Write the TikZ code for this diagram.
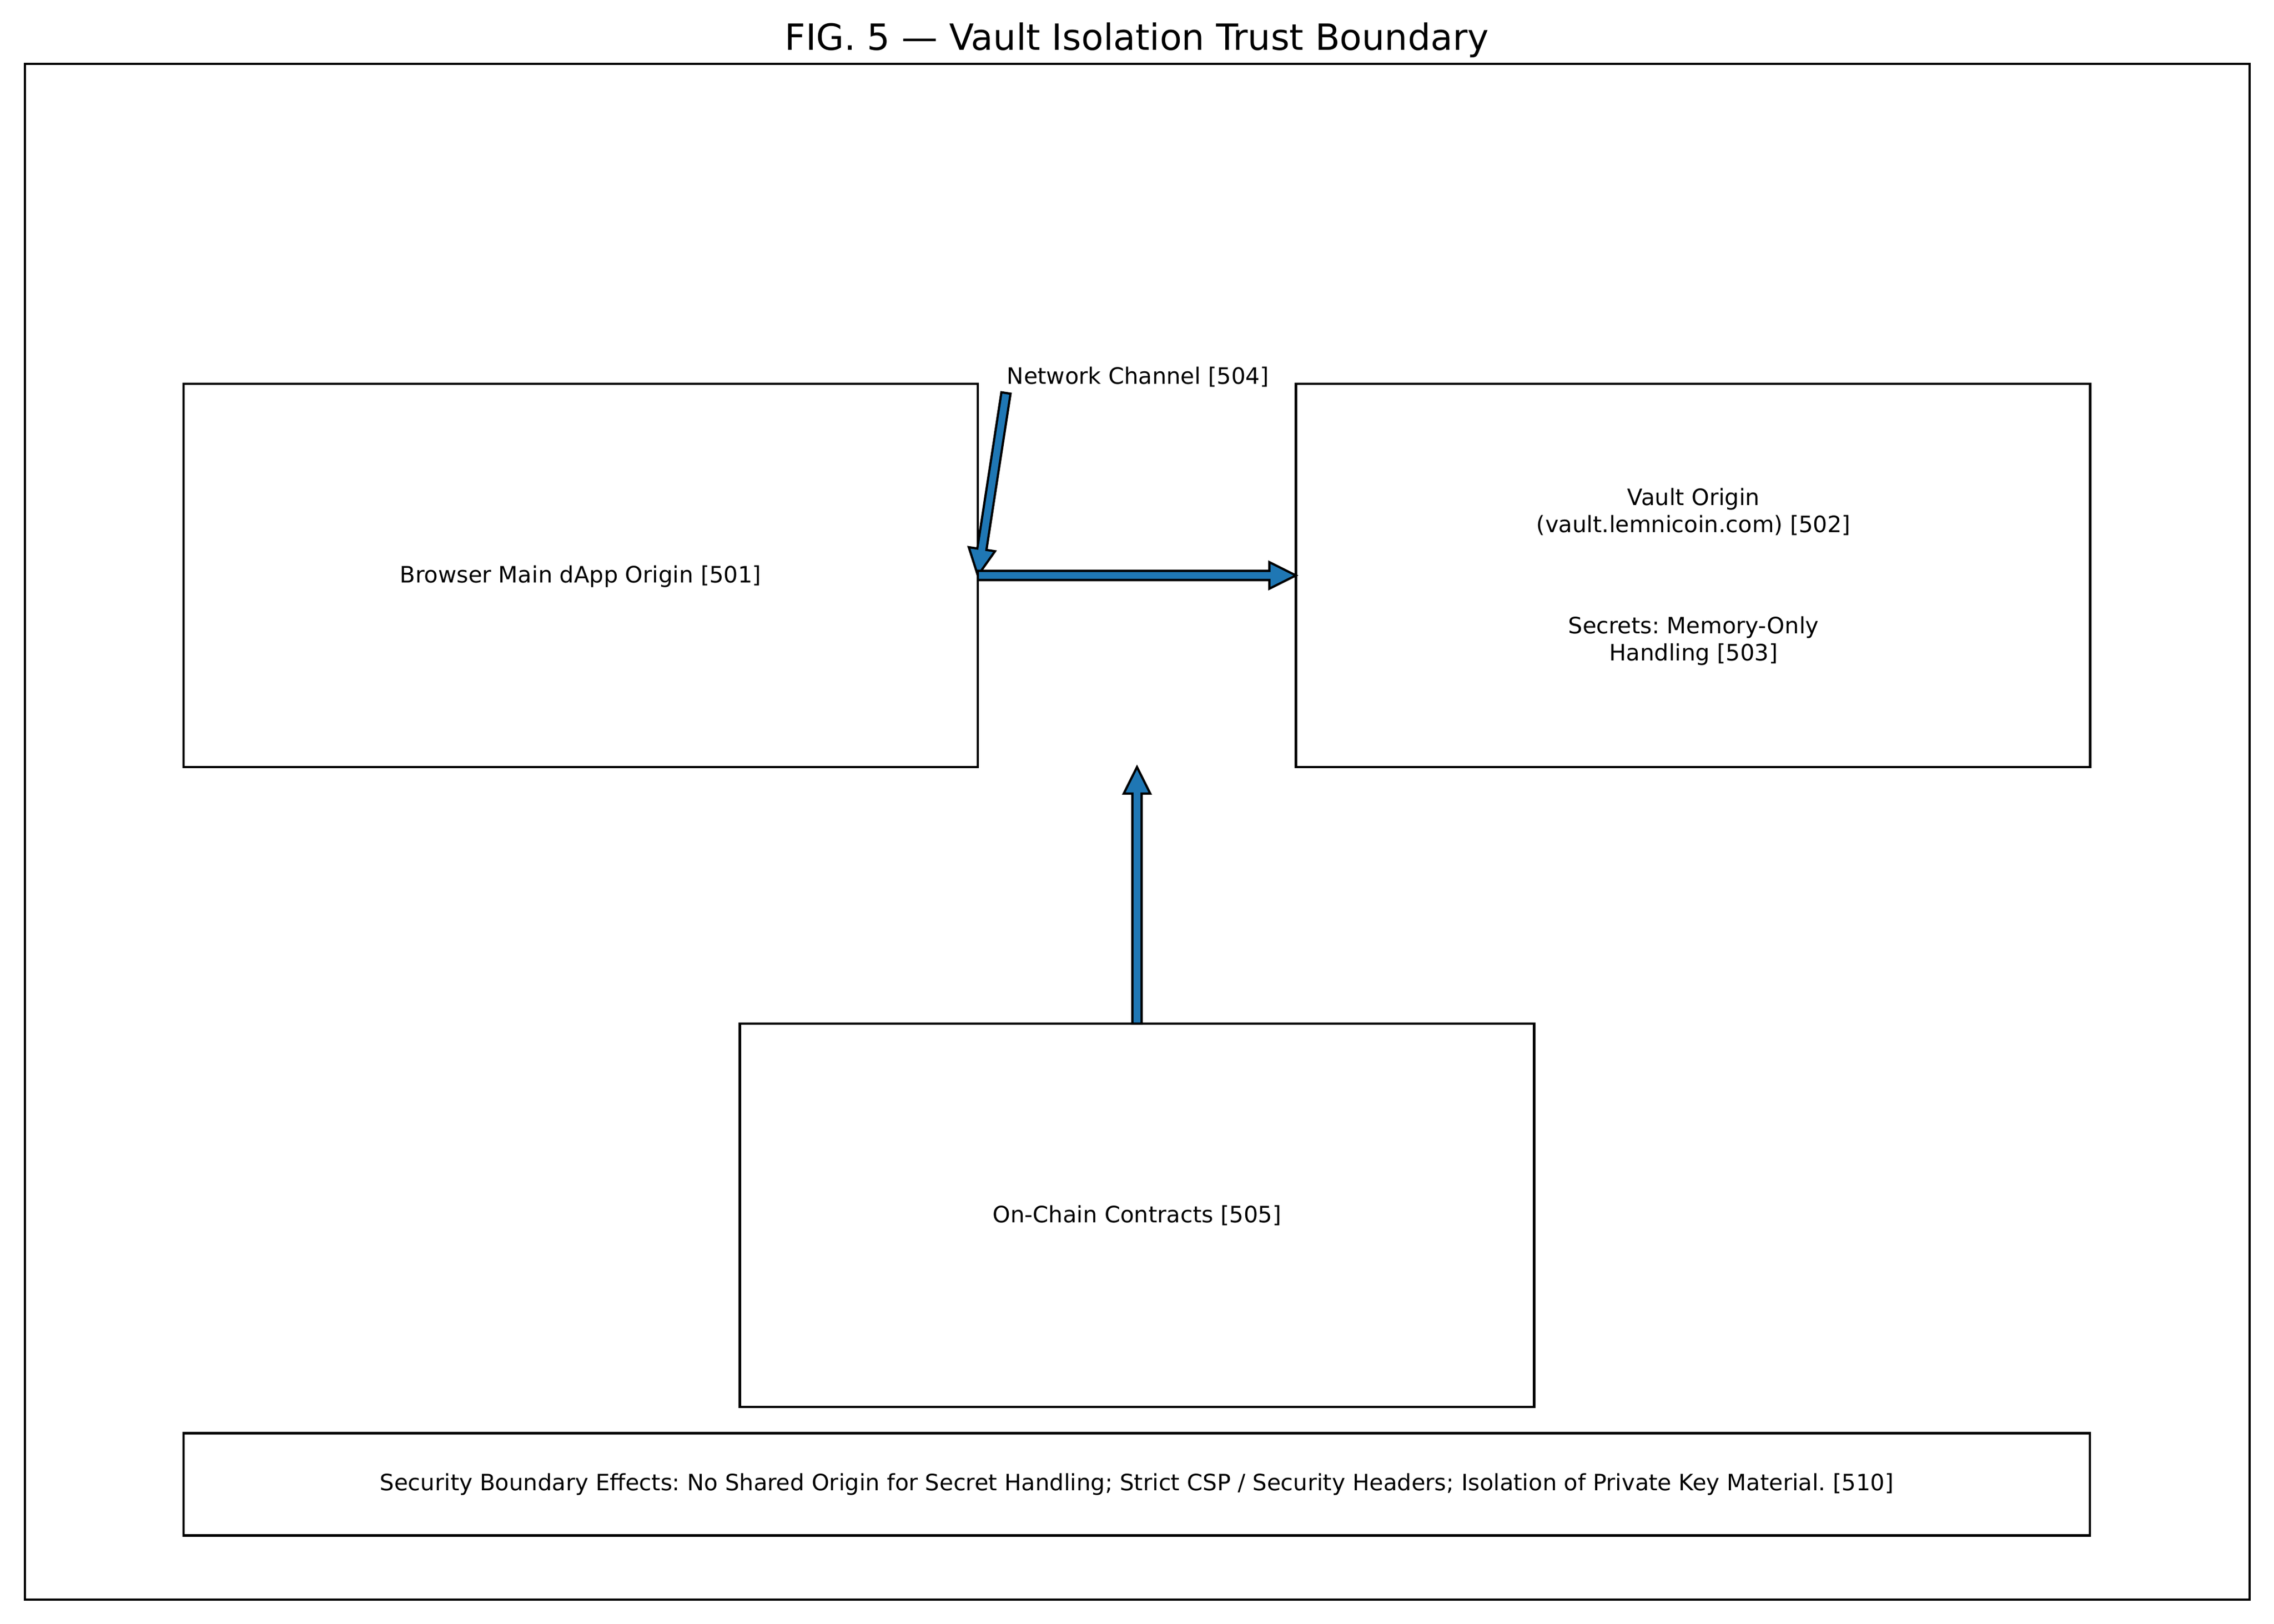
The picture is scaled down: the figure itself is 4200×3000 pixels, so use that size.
\documentclass[tikz,border=0pt]{standalone}
\usepackage{fontspec}
\setmainfont{DejaVu Sans}
\usepackage{tikz}
\usetikzlibrary{calc}
\definecolor{arrowblue}{HTML}{1F77B4}
\tikzset{
	box/.style={shape=rectangle,draw=black,line width=1bp,inner sep=0pt,outer sep=0pt,align=center},
	bigbox/.style={box,minimum width=1467*0.24bp,minimum height=708*0.24bp},
	label/.style={align=center,inner sep=0pt,font=\fontsize{10.04}{12.05}\selectfont\frenchspacing},
	flowarrow/.style={draw=black,fill=arrowblue,line width=1bp,line join=miter,
		to path={($(\tikztostart)!2.04bp!90:(\tikztotarget)$)
			-- ($(\tikztotarget)!11.76bp!(\tikztostart)!2.04bp!-90:(\tikztostart)$)
			-- ($(\tikztotarget)!11.76bp!(\tikztostart)!5.88bp!-90:(\tikztostart)$)
			-- (\tikztotarget)
			-- ($(\tikztotarget)!11.76bp!(\tikztostart)!5.88bp!90:(\tikztostart)$)
			-- ($(\tikztotarget)!11.76bp!(\tikztostart)!2.04bp!90:(\tikztostart)$)
			-- ($(\tikztostart)!2.04bp!-90:(\tikztotarget)$) -- cycle}}
}
\begin{document}
\begin{tikzpicture}[x=0.24bp,y=-0.24bp]
	\useasboundingbox (0,0) rectangle (4200,3000);
	\node[box,minimum width=4109*0.24bp,minimum height=2837*0.24bp] (frame) at (2100.5,1536.5) {};
	\node[anchor=base,inner sep=0pt,font=\fontsize{16.06}{18}\selectfont] (title) at (2100,93) {FIG. 5 — Vault Isolation Trust Boundary};
	
	\node[bigbox] (browser) at (1072.5,1063) {};
	\node[bigbox] (vault) at (3127,1063) {};
	\node[bigbox,label] (contracts) at (2100,2245) {On-Chain Contracts [505]};
	\node[box,label,minimum width=3521*0.24bp,minimum height=189*0.24bp] (effects) at (2099.5,2742) {Security Boundary Effects: No Shared Origin for Secret Handling; Strict CSP / Security Headers; Isolation of Private Key Material. [510]};
	
	\node[label] (browsername) at (1072.5,1065) {Browser Main dApp Origin [501]};
	\node[label] (vaultname) at (3128,945) {Vault Origin\\(vault.lemnicoin.com) [502]};
	\node[label] (secrets) at (3128,1184) {Secrets: Memory-Only\\Handling [503]};
	\node[label,anchor=west] (channel) at (1859,696) {Network Channel [504]};
	
	\coordinate (channelstart) at (1858,726);
	\coordinate (gap) at (2100,1417);
	\draw[flowarrow](channelstart) to (browser.east);
	\draw[flowarrow](browser.east) to (vault.west);
	\draw[flowarrow](contracts.north) to (gap);
\end{tikzpicture}
\end{document}
